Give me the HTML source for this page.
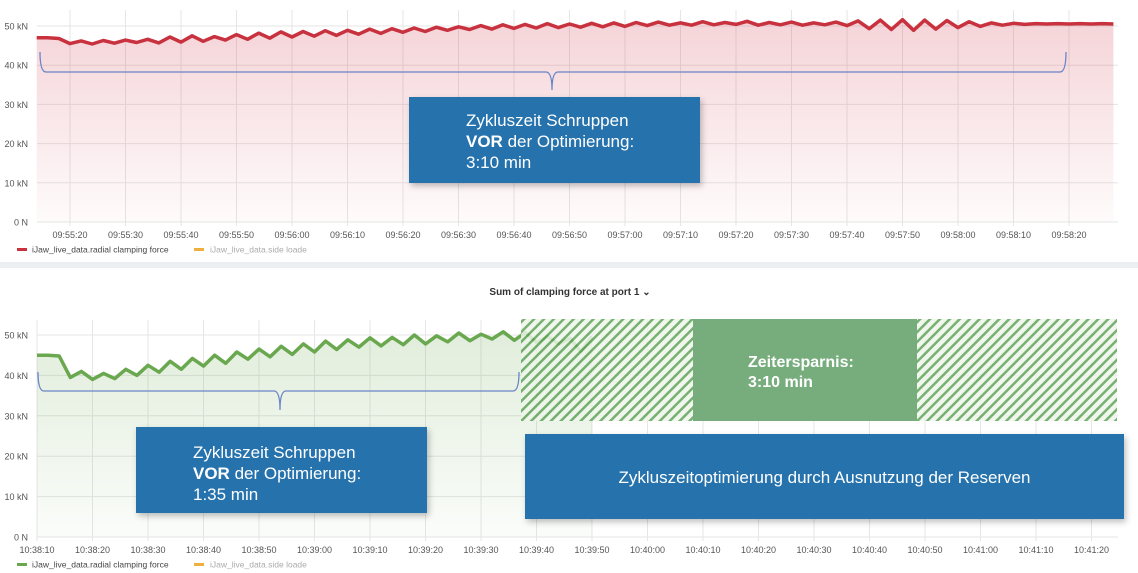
<!DOCTYPE html>
<html><head><meta charset="utf-8">
<style>
body{margin:0;width:1138px;height:573px;overflow:hidden;background:#fff;font-family:"Liberation Sans",sans-serif;}
svg{position:absolute;left:0;top:0;}
.box{position:absolute;background:#2572ad;color:#fff;font-size:17px;line-height:21px;box-shadow:2px 3px 6px rgba(0,0,0,0.25);}
</style></head>
<body>
<svg id="chart" width="1138" height="573" viewBox="0 0 1138 573">
<defs>
<linearGradient id="redfill" x1="0" y1="0" x2="0" y2="1"><stop offset="0" stop-color="#d03a4c" stop-opacity="0.22"/><stop offset="1" stop-color="#d03a4c" stop-opacity="0.02"/></linearGradient>
<linearGradient id="greenfill" x1="0" y1="0" x2="0" y2="1"><stop offset="0" stop-color="#6aa84f" stop-opacity="0.2"/><stop offset="1" stop-color="#6aa84f" stop-opacity="0.03"/></linearGradient>
<pattern id="hatch" width="7" height="7" patternUnits="userSpaceOnUse" patternTransform="rotate(45)"><rect width="7" height="7" fill="#eef5ea"/><rect width="2.5" height="7" fill="#5fa35a"/></pattern>
</defs>
<rect x="0" y="262" width="1138" height="6" fill="#eceff1"/>
<g id="top"></g><g id="bot"></g>
<text x="570" y="295" text-anchor="middle" font-size="10" fill="#333" font-weight="bold">Sum of clamping force at port 1 ⌄</text>
<path d="M40 52 Q40 72 46 72 L546 72 Q552 72 552 90 Q552 72 558 72 L1060 72 Q1066 72 1066 52" fill="none" stroke="#6a85c7" stroke-width="1.3"/>
<path d="M38 372 Q38 391 44 391 L274 391 Q280 391 280 410 Q280 391 286 391 L513 391 Q519 391 519 372" fill="none" stroke="#6a85c7" stroke-width="1.3"/>
<rect x="521" y="319" width="596" height="102" fill="url(#hatch)" opacity="0.85"/>
<rect x="693" y="319" width="224" height="102" fill="#77ad7d"/>
<text x="748" y="367" font-size="16" font-weight="bold" fill="#fff">Zeitersparnis:</text>
<text x="748" y="387" font-size="16" font-weight="bold" fill="#fff">3:10 min</text>
</svg>
<div class="box" style="left:409px;top:97px;width:291px;height:86px;"><div style="padding:13px 0 0 57px">Zykluszeit Schruppen<br><b>VOR</b> der Optimierung:<br>3:10 min</div></div>
<div class="box" style="left:136px;top:427px;width:291px;height:86px;"><div style="padding:15px 0 0 57px">Zykluszeit Schruppen<br><b>VOR</b> der Optimierung:<br>1:35 min</div></div>
<div class="box" style="left:525px;top:434px;width:599px;height:85px;"><div style="text-align:center;padding-top:33px">Zykluszeitoptimierung durch Ausnutzung der Reserven</div></div>
<script>
// top chart: values every 2 s starting 09:55:14
const topValues=[47,47,46.8,45.5,46.2,45.4,46.3,45.6,46.4,45.8,46.6,45.7,47.2,45.9,47.5,46.1,47.3,46.4,47.8,46.6,48.2,46.9,48.5,47.2,48.6,47.4,48.8,47.6,48.9,47.9,49.2,48.1,49.3,48.4,49.5,48.6,49.7,48.9,49.8,49.1,50.1,49.2,50.3,49.4,50.4,49.5,50.6,49.6,50.5,49.7,50.7,49.8,50.8,49.9,50.9,50.1,51,50.2,50.8,50.2,51.1,50.3,50.9,50.4,51.2,50.2,50.9,50.3,51,50.2,50.8,50.3,51,50.1,51.3,49.3,51.5,49.1,51.6,48.9,51.5,49.2,51.4,49.6,51.1,49.9,50.8,50.2,50.7,50.4,50.6,50.5,50.6,50.5,50.6,50.5,50.6,50.5];
const topTicks=["09:55:20","09:55:30","09:55:40","09:55:50","09:56:00","09:56:10","09:56:20","09:56:30","09:56:40","09:56:50","09:57:00","09:57:10","09:57:20","09:57:30","09:57:40","09:57:50","09:58:00","09:58:10","09:58:20"];
// bottom chart: values every 2 s starting 10:38:10
const botValues=[45,45,44.8,39.5,41,39,40.5,39.2,41.5,40,42.5,40.8,43.5,41.5,44.2,42.3,45,43,45.8,44,46.5,44.6,47.2,45.2,47.8,45.8,48.5,46.4,48.8,47,49.3,47.3,49.4,47.6,50,47.8,49.8,48.3,50.5,48.6,50.2,49,50.8,48.7,50.6,48.2,49.6,47.8,49.2,46,49.6];
const botTicks=["10:38:10","10:38:20","10:38:30","10:38:40","10:38:50","10:39:00","10:39:10","10:39:20","10:39:30","10:39:40","10:39:50","10:40:00","10:40:10","10:40:20","10:40:30","10:40:40","10:40:50","10:41:00","10:41:10","10:41:20"];
const yTicks=[0,10,20,30,40,50];
const yLabels=["0 N","10 kN","20 kN","30 kN","40 kN","50 kN"];
const NS="http://www.w3.org/2000/svg";
function mk(tag,attrs,parent){const e=document.createElementNS(NS,tag);for(const k in attrs)e.setAttribute(k,attrs[k]);parent.appendChild(e);return e;}
function draw(g,cfg){
  const y=v=>cfg.y0-(v/10)*cfg.py10;
  const x=s=>cfg.xt0+s*cfg.pxs;
  yTicks.forEach((t,i)=>{
    const l=mk('line',{x1:cfg.left,x2:cfg.right,y1:y(t),y2:y(t),stroke:'#e6e6e6','stroke-width':1},g);
    
    
    const tx=mk('text',{x:28,y:y(t)+3.5,'text-anchor':'end','font-size':9,fill:'#555'},g);
    tx.textContent=yLabels[i];
    
    
  });
  cfg.ticks.forEach((t,i)=>{
    const xx=x(i*10);
    const l=mk('line',{x1:xx,x2:xx,y1:cfg.top,y2:cfg.y0+4,stroke:'#e6e6e6','stroke-width':1},g);
    
    
    const tx=mk('text',{x:xx,y:cfg.y0+16,'text-anchor':'middle','font-size':9,fill:'#555'},g);
    tx.textContent=t;
    
    
  });
  const pts=cfg.vals.map((v,i)=>[x(cfg.start+i*2),y(v)]);
  const line=pts.map(p=>p[0].toFixed(1)+','+p[1].toFixed(1)).join(' ');
  const area=mk('polygon',{points:line+' '+pts[pts.length-1][0]+','+cfg.y0+' '+pts[0][0]+','+cfg.y0,fill:cfg.fill},g);
  
  
  const pl=mk('polyline',{points:line,fill:'none',stroke:cfg.color,'stroke-width':3.5,'stroke-linejoin':'round'},g);
  
  
  const ly=cfg.y0+28;
  const s1=mk('rect',{x:17,y:ly-2,width:10,height:3,fill:cfg.color},g);
  
  
  const t1=mk('text',{x:32,y:ly+2.5,'font-size':8.5,fill:'#444'},g);
  t1.textContent='iJaw_live_data.radial clamping force';
  
  
  const s2=mk('rect',{x:194,y:ly-2,width:10,height:3,fill:'#f0b041'},g);
  
  
  const t2=mk('text',{x:210,y:ly+2.5,'font-size':8.5,fill:'#aaa'},g);
  t2.textContent='iJaw_live_data.side loade';
  
  
}
draw(document.getElementById('top'),{vals:topValues,ticks:topTicks,start:-6,xt0:70,pxs:5.55,y0:222,py10:39.2,left:37,right:1118,top:10,fill:'url(#redfill)',color:'#c8323f'});
draw(document.getElementById('bot'),{vals:botValues,ticks:botTicks,start:0,xt0:37,pxs:5.55,y0:537,py10:40.4,left:37,right:1118,top:320,fill:'url(#greenfill)',color:'#6aa84f'});
</script>
</body></html>
